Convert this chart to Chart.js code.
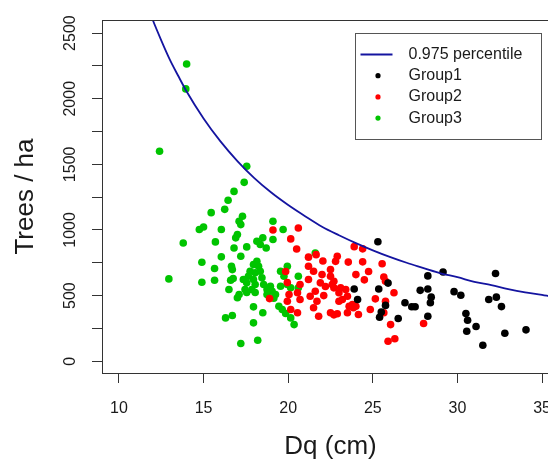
<!DOCTYPE html>
<html><head><meta charset="utf-8">
<style>
html,body{margin:0;padding:0;background:#fff;overflow:hidden;width:548px;height:462px}
canvas{display:block}
</style>
<script src="https://cdn.jsdelivr.net/npm/chart.js@4.4.1/dist/chart.umd.min.js"></script>
</head><body>
<canvas id="c" width="570" height="462"></canvas>
<script>
// ---- data ----
const curveDq = [11.8,12,12.5,13,13.5,14,15,16,17,18,19,20,21,22,23,24,25,26,27,28,29,30,31,32,33,34,35,36];
const curveN  = [2670,2600,2445,2300,2175,2055,1850,1675,1525,1395,1285,1190,1105,1025,960,900,845,795,750,710,670,640,605,580,550,525,505,480];

const group1 = [[25.3,910],[23.9,550],[24.1,470],[25.35,550],[25.9,595],[25.75,425],[25.5,375],[25.4,335],
  [26.5,325],[26.9,445],[27.3,415],[27.5,415],[28.25,650],[28.25,550],[27.8,540],[28.45,488],[28.4,445],
  [28.25,343],[29.15,680],[29.8,530],[30.2,503],[30.5,363],[30.6,312],[31.1,264],[30.55,228],[31.5,122],
  [32.25,668],[31.85,470],[32.3,488],[32.6,416],[32.8,213],[34.05,239]];

const group2 = [[19.1,1000],[20.6,1015],[20.15,932],[20.5,855],[21.2,793],[21.65,812],[22.05,763],[22.9,800],
  [22.8,761],[23.55,755],[23.9,873],[24.4,856],[24.4,757],[25.55,742],[24.75,683],[24.5,620],[25.65,641],
  [25.75,609],[26.25,521],[24.0,660],[21.2,723],[21.5,685],[22.0,660],[22.5,647],[22.7,609],[21.9,597],
  [21.2,622],[20.7,584],[19.85,683],[19.95,599],[20.55,521],[20.7,470],[19.95,457],[20.15,394],[20.55,369],
  [21.3,495],[21.7,457],[21.5,407],[21.8,343],[22.5,369],[22.9,361],[23.5,369],[22.7,559],[23.0,521],
  [23.5,495],[23.1,559],[23.4,546],[23.2,470],[23.8,432],[24.0,419],[23.6,419],[25.15,475],[25.75,457],
  [24.85,394],[24.15,356],[25.65,369],[26.05,279],[25.9,152],[26.3,171],[28.0,287],[23.0,457],[23.85,407],
  [22.6,584],[21.6,533],[20.05,508],[22.5,698],[22.2,569],[22.1,500],[18.9,477],[22.7,353]];

const group3 = [[12.4,1600],[12.95,627],[14.0,2265],[13.95,2075],[17.55,1485],[17.4,1363],[16.8,1294],
  [16.45,1226],[16.25,1157],[15.45,1132],[17.3,1104],[17.1,1066],[17.2,1041],[15.0,1023],[14.75,1003],
  [16.05,1003],[17.0,965],[16.9,940],[15.7,909],[13.8,901],[19.1,1066],[19.7,1003],[18.5,940],[18.15,914],
  [19.1,927],[18.35,889],[18.7,863],[16.8,863],[17.55,871],[17.2,800],[16.05,795],[14.9,754],[15.65,706],
  [16.65,723],[16.7,698],[14.9,602],[15.65,617],[16.6,617],[16.5,546],[17.0,483],[16.3,330],[16.7,348],
  [17.2,135],[18.2,160],[17.95,292],[17.95,414],[18.5,369],[18.15,761],[17.95,736],[18.25,723],[17.75,685],
  [18.05,673],[18.35,685],[17.65,647],[17.95,622],[18.45,635],[17.55,597],[18.05,584],[18.55,584],[17.45,546],
  [17.85,546],[18.75,546],[19.05,533],[19.25,508],[19.95,723],[19.55,685],[19.75,647],[20.6,647],[19.95,584],
  [20.15,559],[20.6,559],[17.1,508],[17.55,523],[18.05,523],[19.45,419],[19.65,394],[19.85,363],[20.15,330],
  [20.35,279],[21.6,825],[16.75,630],[17.35,622],[18.95,571],[19.55,571],[19.15,480],[18.75,508]];

const xTicks = [10,15,20,25,30,35];
const yTickMarks = [0,250,500,750,1000,1250,1500,1750,2000,2250,2500];
const yTickLabels = [0,500,1000,1500,2000,2500];
const seriesLabels = ['0.975 percentile','Group1','Group2','Group3'];
const xTitle = 'Dq (cm)';
const yTitle = 'Trees / ha';

// ---- styling ----
const FONT = "'Liberation Sans', Arial, Helvetica, sans-serif";
const TEXT = '#1a1a1a';
const AXIS = '#333';
const BLUE = '#1414a0';
const COLORS = ['#000000', '#ff0000', '#00c400'];
const toPts = arr => arr.map(([x, y]) => ({x, y}));

const framePlugin = {
  id: 'frame',
  afterDatasetsDraw(chart) {
    const {ctx, chartArea: a} = chart;
    ctx.save();
    ctx.strokeStyle = AXIS; ctx.lineWidth = 1;
    ctx.strokeRect(Math.round(a.left) + 0.5, Math.round(a.top) + 0.5,
                   Math.round(a.right - a.left), Math.round(a.bottom - a.top));
    ctx.restore();
  }
};

const yLabelPlugin = {
  id: 'yLabels',
  afterDraw(chart) {
    const ctx = chart.ctx, s = chart.scales.y;
    ctx.save();
    ctx.font = '16px ' + FONT;
    ctx.fillStyle = TEXT;
    ctx.textAlign = 'center';
    ctx.textBaseline = 'middle';
    s.ticks.forEach(t => {
      if (!yTickLabels.includes(t.value)) return;
      const py = s.getPixelForValue(t.value);
      ctx.save();
      ctx.translate(s.right - 31, py);
      ctx.rotate(-Math.PI / 2);
      ctx.fillText(String(t.value), 0, 0);
      ctx.restore();
    });
    ctx.restore();
  }
};

const legendPlugin = {
  id: 'boxLegend',
  afterDraw(chart) {
    const ctx = chart.ctx, a = chart.chartArea;
    const bx = a.left + 253.5, by = a.top + 13.5, bw = 186, bh = 106;
    ctx.save();
    ctx.fillStyle = '#fff';
    ctx.fillRect(bx, by, bw, bh);
    ctx.strokeStyle = '#555'; ctx.lineWidth = 1;
    ctx.strokeRect(bx, by, bw, bh);
    ctx.font = '16px ' + FONT;
    ctx.textBaseline = 'middle';
    ctx.textAlign = 'left';
    chart.data.datasets.forEach((ds, i) => {
      const y = by + 21 + i * 21.2;
      if (i === 0) {
        ctx.strokeStyle = ds.borderColor; ctx.lineWidth = 2;
        ctx.beginPath(); ctx.moveTo(bx + 5, y); ctx.lineTo(bx + 37, y); ctx.stroke();
      } else {
        ctx.fillStyle = ds.pointBackgroundColor;
        ctx.beginPath(); ctx.arc(bx + 22.5, y, 2.6, 0, Math.PI * 2); ctx.fill();
      }
      ctx.fillStyle = TEXT;
      ctx.fillText(ds.label, bx + 53, y);
    });
    ctx.restore();
  }
};

const groupSets = [group1, group2, group3].map((g, i) => ({
  label: seriesLabels[i + 1],
  data: toPts(g),
  pointBackgroundColor: COLORS[i],
  pointBorderColor: COLORS[i],
  pointBorderWidth: 0,
  pointRadius: 3.8,
  pointHoverRadius: 3.8,
  showLine: false
}));

new Chart(document.getElementById('c'), {
  type: 'scatter',
  data: {
    datasets: [{
      label: seriesLabels[0],
      data: curveDq.map((x, i) => ({x, y: curveN[i]})),
      showLine: true,
      borderColor: BLUE,
      borderWidth: 1.8,
      pointRadius: 0,
      pointHoverRadius: 0,
      cubicInterpolationMode: 'monotone',
      fill: false
    }, ...groupSets]
  },
  options: {
    responsive: false,
    animation: false,
    devicePixelRatio: 1,
    layout: {padding: {top: 20, right: 11, left: 0, bottom: 0}},
    plugins: {legend: {display: false}, tooltip: {enabled: false}},
    events: [],
    scales: {
      x: {
        type: 'linear', min: 9, max: 36,
        afterBuildTicks(s) { s.ticks = xTicks.map(v => ({value: v})); },
        afterFit(s) { s.height = 89; },
        ticks: {
          padding: 16, autoSkip: false, maxRotation: 0, minRotation: 0,
          font: {family: FONT, size: 16}, color: TEXT,
          callback: v => String(v)
        },
        grid: {drawOnChartArea: false, drawTicks: true, tickLength: 10, tickColor: AXIS, tickWidth: 1},
        border: {display: true, color: AXIS, width: 1},
        title: {display: true, text: xTitle, font: {family: FONT, size: 26}, color: TEXT, padding: {top: 0, bottom: 0}}
      },
      y: {
        type: 'linear', min: -90, max: 2600,
        afterBuildTicks(s) { s.ticks = yTickMarks.map(v => ({value: v})); },
        afterFit(s) { s.width = 102; },
        ticks: {padding: 0, autoSkip: false, callback: () => ''},
        grid: {drawOnChartArea: false, drawTicks: true, tickLength: 10, tickColor: AXIS, tickWidth: 1},
        border: {display: true, color: AXIS, width: 1},
        title: {display: true, text: yTitle, font: {family: FONT, size: 26}, color: TEXT, padding: {top: 10, bottom: 0}}
      }
    }
  },
  plugins: [framePlugin, yLabelPlugin, legendPlugin]
});
</script>
</body></html>
